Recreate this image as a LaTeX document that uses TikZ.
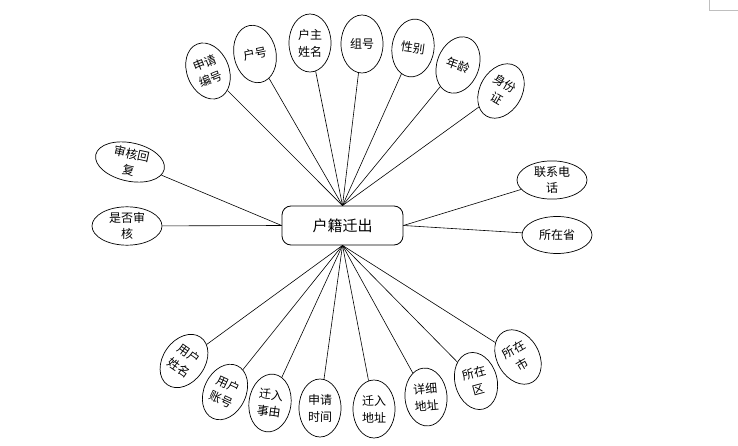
\documentclass[tikz,border=0pt]{standalone}
\usepackage{fontspec}
\newfontfamily\cjk{Noto Sans CJK SC}
\usetikzlibrary{shapes.geometric}
\begin{document}
\begin{tikzpicture}[x=1pt,y=-1pt,
  attr/.style={ellipse,draw,line width=0.7pt,inner sep=0pt,minimum width=42pt,minimum height=58pt,align=center,font=\cjk\fontsize{12}{17}\selectfont},
  hattr/.style={attr,minimum width=70pt,minimum height=37pt,font=\cjk\fontsize{12}{16}\selectfont},
  ent/.style={draw,rounded corners=9pt,line width=0.8pt,minimum width=121pt,minimum height=39pt,inner sep=0pt,font=\cjk\fontsize{15}{18}\selectfont},
  link/.style={line width=0.6pt}]
\useasboundingbox (0,0) rectangle (738,446);
\node[ent] (e) at (342.5,225.5) {户籍迁出};
% top
\node[attr,rotate=22] (a1) at (208,71) {申请\\编号};
\node[attr,rotate=12] (a2) at (255,54) {户号};
\node[attr] (a3) at (310,43) {户主\\姓名};
\node[attr] (a4) at (362,44) {组号};
\node[attr,rotate=-8] (a5) at (413,48) {性别};
\node[attr,rotate=-20] (a6) at (458,65) {年龄};
\node[attr,rotate=-30] (a7) at (501,91) {身份\\证};
% sides
\node[hattr,rotate=-12] (l1) at (130,162) {审核回\\复};
\node[hattr] (l2) at (127,226) {是否审\\核};
\node[hattr] (r1) at (552,180) {联系电\\话};
\node[hattr] (r2) at (557,235) {所在省};
% bottom
\node[attr,rotate=-35] (b1) at (184,361) {用户\\姓名};
\node[attr,rotate=-25] (b2) at (225,392) {用户\\账号};
\node[attr,rotate=-8] (b3) at (270,403) {迁入\\事由};
\node[attr] (b4) at (320,408) {申请\\时间};
\node[attr] (b5) at (374,409) {迁入\\地址};
\node[attr,rotate=5] (b6) at (426,397) {详细\\地址};
\node[attr,rotate=15] (b7) at (476,381) {所在\\区};
\node[attr,rotate=30] (b8) at (518,357) {所在\\市};
% links
\foreach \n in {a1,a2,a3,a4,a5,a6,a7} \draw[link] (\n) -- (e.north);
\foreach \n in {b1,b2,b3,b4,b5,b6,b7,b8} \draw[link] (\n) -- (e.south);
\draw[link] (l1) -- (e.west);
\draw[link] (l2) -- (e.west);
\draw[link] (r1) -- (e.east);
\draw[link] (r2) -- (e.east);
% corner mark
\draw[gray!50,line width=0.8pt] (709,0) -- (709,10) -- (738,10);
\end{tikzpicture}
\end{document}
